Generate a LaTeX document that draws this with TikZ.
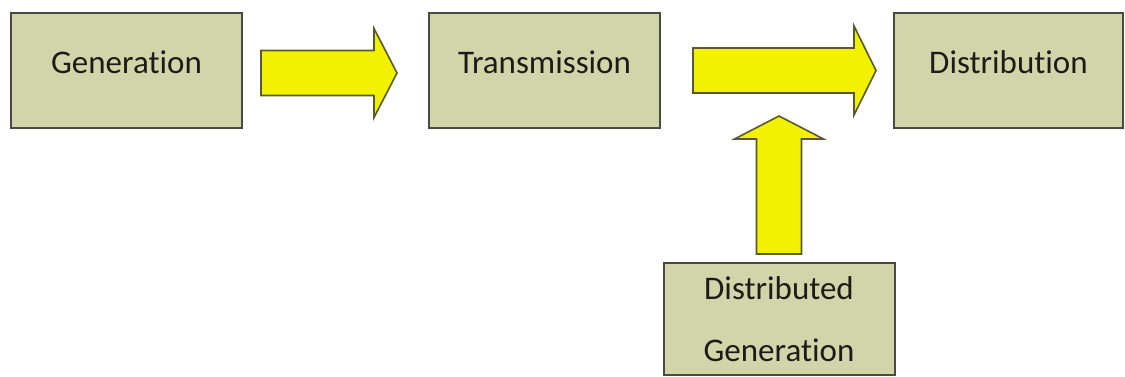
\documentclass[tikz,border=0pt]{standalone}
\usepackage{fontspec}
\setmainfont[Ligatures=NoCommon]{Carlito}
\usetikzlibrary{calc}
\definecolor{boxfill}{RGB}{209,214,170}
\definecolor{boxline}{RGB}{74,74,64}
\definecolor{arrowfill}{RGB}{242,242,0}
\definecolor{arrowline}{RGB}{90,90,40}
\definecolor{labeltext}{RGB}{28,28,22}
\tikzset{
  stage/.style={draw=boxline,fill=boxfill,line width=1pt,inner sep=0pt,
    minimum width=115.5pt,minimum height=57.5pt},
  stagelabel/.style={anchor=base,text=labeltext,inner sep=0pt,
    font=\fontsize{16.5}{20}\selectfont},
  flow/.style={draw=arrowline,fill=arrowfill,line width=0.8pt,line join=miter}
}

\begin{document}
\begin{tikzpicture}[x=0.5pt,y=-0.5pt]
  \clip (0,0) rectangle (1125,376);
  \fill[white] (0,0) rectangle (1125,376);

  % stages
  \node[stage] (gen) at (126.5, 70.5) {};
  \node[stagelabel] (genlabel) at ($(gen.center)+(0,2.5)$) {Generation};
  \node[stage] (trans) at (544.5, 70.5) {};
  \node[stagelabel] (translabel) at ($(trans.center)+(0,2.5)$) {Transmission};
  \node[stage,minimum width=114.5pt] (dist) at (1008.5, 70.5) {};
  \node[stagelabel] (distlabel) at ($(dist.center)+(0,2.5)$) {Distribution};
  \node[stage,minimum height=56pt] (dg) at (779, 319) {};
  \node[stagelabel] (dglabela) at ($(dg.north)+(0,37)$) {Distributed};
  \node[stagelabel] (dglabelb) at ($(dg.north)+(0,99)$) {Generation};

  % block arrows
  \draw[flow] ($(gen.east)+(18,-20)$) -- ++(113,0) -- ++(0,-22) -- ++(23,44.5)
    -- ++(-23,44.5) -- ++(0,-22) -- ++(-113,0) -- cycle;
  \draw[flow] ($(trans.east)+(32,-22.5)$) -- ++(161,0) -- ++(0,-22) -- ++(22,44.5)
    -- ++(-22,44.5) -- ++(0,-22) -- ++(-161,0) -- cycle;
  \draw[flow] ($(dg.north)+(-22.5,-8)$) -- ++(0,-115) -- ++(-22,0) -- ++(44.5,-23)
    -- ++(44.5,23) -- ++(-22,0) -- ++(0,115) -- cycle;
\end{tikzpicture}
\end{document}
